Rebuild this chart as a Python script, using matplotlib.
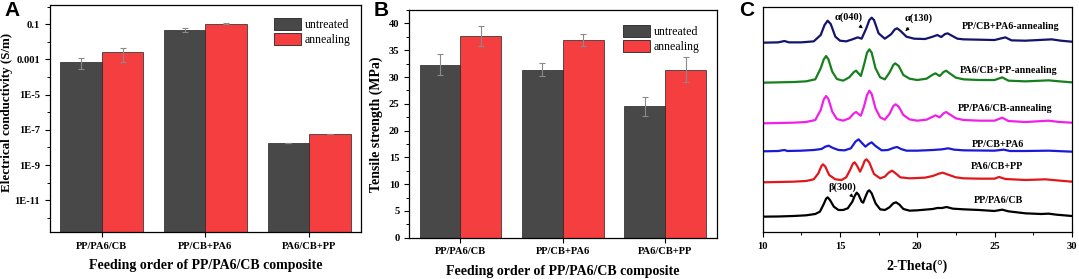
import matplotlib
matplotlib.use("Agg")
import matplotlib.pyplot as plt
import numpy as np
from matplotlib.patches import Patch
from matplotlib.ticker import FixedLocator, NullLocator, MultipleLocator, NullFormatter

# ---------------- data ----------------
groups = ["PP/PA6/CB", "PP/CB+PA6", "PA6/CB+PP"]
series = ["untreated", "annealing"]

cond_untreated = [7.4e-4, 5.0e-2, 1.8e-8]
cond_annealing = [2.7e-3, 1.08e-1, 5.9e-8]
cond_err_untreated = [4.5e-4, 1.5e-2, 1.0e-9]
cond_err_annealing = [2.0e-3, 8.0e-3, 2.0e-9]

ts_untreated = [32.3, 31.4, 24.5]
ts_annealing = [37.6, 36.9, 31.4]
ts_err_untreated = [2.0, 1.3, 1.7]
ts_err_annealing = [1.9, 1.2, 2.3]

# XRD patterns (2-Theta in degrees, intensity in a.u.)
xrd_labels = ["PP/PA6/CB", "PA6/CB+PP", "PP/CB+PA6",
              "PP/PA6/CB-annealing", "PA6/CB+PP-annealing", "PP/CB+PA6-annealing"]
xrd_colors = ["#000000", "#e0181c", "#1a1ad6", "#f020e8", "#17801e", "#14146e"]

tt_1 = [10, 11, 12, 12.8, 13.4, 13.7, 13.95, 14.1, 14.2, 14.35, 14.6, 14.9, 15.2, 15.5, 15.8, 15.95,
        16.08, 16.2, 16.4, 16.5, 16.65, 16.8, 16.9, 17.05, 17.3, 17.6, 17.9, 18.2, 18.45, 18.63, 18.85,
        19.1, 19.5, 20.0, 20.5, 21.0, 21.3, 21.6, 21.9, 22.3, 23, 24, 25, 25.5, 25.9, 27, 28, 28.5, 29, 30]
zy_1 = [650, 649.5, 648, 646, 642, 635, 612, 596, 592, 600, 620, 630, 630, 625, 605, 588,
        578, 584, 605, 608, 590, 574, 571, 580, 610, 628, 630, 622, 610, 607, 614,
        627, 632, 631, 629, 627, 624, 624, 621, 626, 628, 630, 633, 629, 634, 640, 642, 641, 644, 648]

tt_2 = [10, 11, 12, 12.8, 13.3, 13.6, 13.8, 13.9, 14.05, 14.3, 14.7, 15.1, 15.4, 15.65, 15.85, 15.95,
        16.1, 16.3, 16.45, 16.6, 16.72, 16.9, 17.2, 17.6, 17.9, 18.15, 18.37, 18.6, 18.9, 19.5, 20.5,
        21.0, 21.4, 21.65, 22.0, 22.5, 23, 24, 25, 25.3, 25.7, 27, 28.3, 29, 30]
zy_2 = [547, 546, 545, 543, 538, 520, 498, 493, 500, 525, 538, 540, 532, 510, 490, 487,
        497, 515, 500, 482, 478, 488, 522, 535, 530, 518, 512, 520, 532, 535, 533,
        528, 521, 518, 524, 532, 535, 536, 536, 531, 537, 540, 538, 541, 545]

tt_3 = [10, 11, 11.4, 11.6, 12.5, 13.3, 13.8, 14.05, 14.27, 14.5, 14.9, 15.3, 15.7, 16.0, 16.2, 16.4,
        16.65, 16.85, 17.05, 17.3, 17.7, 18.1, 18.5, 18.7, 18.95, 19.3, 20, 21, 21.6, 22.0, 22.4, 23,
        25, 25.6, 26, 27, 28.5, 30]
zy_3 = [454, 453, 450, 453, 452, 450, 447, 440, 437, 443, 450, 451, 445, 425, 418, 428,
        440, 432, 427, 438, 451, 450, 443, 441, 447, 452, 452, 450, 448, 445, 449, 451,
        452, 449, 453, 453, 452, 455]

tt_4 = [10, 11, 12, 12.8, 13.4, 13.75, 13.95, 14.1, 14.25, 14.5, 14.8, 15.2, 15.6, 15.9, 16.04, 16.2,
        16.35, 16.55, 16.75, 16.9, 17.05, 17.3, 17.6, 17.9, 18.2, 18.45, 18.6, 18.8, 19.1, 19.5, 20,
        20.6, 21.0, 21.18, 21.45, 21.7, 21.87, 22.1, 22.5, 23, 24, 25, 25.5, 25.9, 27, 28.5, 29.2, 30]
zy_4 = [370, 369, 368, 366, 360, 330, 298, 288, 297, 335, 357, 362, 355, 340, 336, 342,
        347, 320, 285, 272, 282, 325, 352, 359, 342, 318, 313, 320, 345, 358, 362,
        359, 350, 346, 352, 340, 336, 343, 355, 360, 362, 362, 353, 363, 366, 362, 366, 368]

tt_5 = [10, 11, 12, 12.8, 13.4, 13.75, 13.95, 14.1, 14.25, 14.5, 14.8, 15.2, 15.6, 15.9, 16.04, 16.2,
        16.35, 16.55, 16.75, 16.9, 17.05, 17.3, 17.6, 17.9, 18.2, 18.45, 18.57, 18.8, 19.1, 19.5, 20,
        20.6, 21.0, 21.18, 21.45, 21.7, 21.87, 22.1, 22.5, 23, 24, 25, 25.5, 25.9, 27, 28.5, 29.2, 30]
zy_5 = [248, 247, 246, 244, 238, 205, 178, 168, 178, 215, 237, 242, 232, 216, 212, 220,
        228, 195, 158, 148, 158, 205, 232, 238, 218, 195, 190, 198, 225, 236, 240,
        236, 224, 220, 228, 216, 212, 220, 233, 238, 240, 240, 232, 242, 244, 241, 244, 247]

tt_6 = [10, 11, 11.4, 11.7, 12.5, 13.3, 13.75, 14.0, 14.2, 14.4, 14.7, 15.0, 15.4, 15.8, 16.15, 16.4,
        16.7, 16.9, 17.05, 17.2, 17.5, 17.9, 18.3, 18.55, 18.7, 18.9, 19.3, 19.8, 20.5, 21.0, 21.3,
        21.55, 21.8, 21.97, 22.2, 22.6, 23, 24, 25, 25.7, 26.1, 27, 28.7, 29.3, 30]
zy_6 = [128, 127, 123, 127, 127, 124, 105, 75, 62, 72, 110, 122, 124, 118, 112, 116,
        85, 60, 53, 60, 100, 116, 103, 88, 85, 92, 110, 116, 117, 110, 105,
        111, 102, 100, 106, 116, 118, 119, 120, 112, 121, 122, 118, 122, 125]

PIX0 = 696  # baseline reference for intensity (a.u.)
xrd_x = [tt_1, tt_2, tt_3, tt_4, tt_5, tt_6]
xrd_y = [[PIX0 - v for v in z] for z in (zy_1, zy_2, zy_3, zy_4, zy_5, zy_6)]
xrd_label_pos = [(25.27, 93), (25.17, 198), (25.2, 263), (25.7, 371), (25.92, 486), (26.05, 616)]

# ---------------- style ----------------
C_UNT = "#484848"
C_ANN = "#f43e40"
SERIF = ["Liberation Serif", "DejaVu Serif"]
plt.rcParams["font.family"] = SERIF
plt.rcParams["font.weight"] = "bold"
plt.rcParams["axes.linewidth"] = 0.9

fig = plt.figure(figsize=(10.79, 2.79), dpi=100)
axA = fig.add_axes([0.0463, 0.1674, 0.2882, 0.8136])
axB = fig.add_axes([0.3793, 0.1480, 0.2849, 0.8160])
axC = fig.add_axes([0.7069, 0.1685, 0.2864, 0.8075])

x = np.arange(len(groups))
w = 0.4
TICK_FS = 7.6
LABEL_FS = 10


def style_bar_axes(ax):
    ax.tick_params(axis="both", which="both", direction="out", labelsize=TICK_FS,
                   right=False, top=False)
    ax.tick_params(which="major", length=3.5, width=0.8)
    ax.tick_params(which="minor", length=2, width=0.7)
    ax.set_xticks(x)
    ax.set_xticklabels(groups, fontsize=TICK_FS, fontweight="bold")
    ax.set_xlim(-0.5, 2.5)
    ax.set_xlabel("Feeding order of PP/PA6/CB composite", fontsize=LABEL_FS,
                  fontweight="bold", labelpad=6)
    for t in ax.get_yticklabels():
        t.set_fontweight("bold")


def add_legend(ax, anchor):
    handles = [Patch(facecolor=C_UNT, edgecolor="#222222", linewidth=0.6),
               Patch(facecolor=C_ANN, edgecolor="#222222", linewidth=0.6)]
    leg = ax.legend(handles, series, loc="upper left", bbox_to_anchor=anchor,
                    frameon=False, handlelength=2.3, handleheight=1.15,
                    handletextpad=0.3, labelspacing=0.15, borderpad=0.0,
                    prop={"family": SERIF, "weight": "normal", "size": 8.6})
    return leg


err_kw = dict(ecolor="#8a8a8a", elinewidth=0.8, capsize=2, capthick=0.8)

# ---------------- Panel A ----------------
axA.bar(x - w / 2, cond_untreated, w, color=C_UNT, edgecolor="#222222", linewidth=0.5,
        yerr=cond_err_untreated, error_kw=err_kw, zorder=2)
axA.bar(x + w / 2, cond_annealing, w, color=C_ANN, edgecolor="#222222", linewidth=0.5,
        yerr=cond_err_annealing, error_kw=err_kw, zorder=2)
axA.set_yscale("log")
axA.set_ylim(1.5e-13, 1.2)
major = [1e-1, 1e-3, 1e-5, 1e-7, 1e-9, 1e-11]
axA.yaxis.set_major_locator(FixedLocator(major))
axA.yaxis.set_minor_locator(FixedLocator([1e0, 1e-2, 1e-4, 1e-6, 1e-8, 1e-10, 1e-12]))
axA.yaxis.set_minor_formatter(NullFormatter())
axA.set_yticklabels(["0.1", "0.001", "1E-5", "1E-7", "1E-9", "1E-11"])
axA.set_ylabel("Electrical conductivity (S/m)", fontsize=9.4, fontweight="bold")
axA.yaxis.set_label_coords(-0.12, 0.53)
style_bar_axes(axA)
add_legend(axA, (0.70, 0.97))

# ---------------- Panel B ----------------
axB.bar(x - w / 2, ts_untreated, w, color=C_UNT, edgecolor="#222222", linewidth=0.5,
        yerr=ts_err_untreated, error_kw=err_kw, zorder=2)
axB.bar(x + w / 2, ts_annealing, w, color=C_ANN, edgecolor="#222222", linewidth=0.5,
        yerr=ts_err_annealing, error_kw=err_kw, zorder=2)
axB.set_ylim(0, 42.5)
axB.yaxis.set_major_locator(MultipleLocator(5))
axB.yaxis.set_minor_locator(MultipleLocator(2.5))
axB.set_ylabel("Tensile strength (MPa)", fontsize=LABEL_FS, fontweight="bold")
axB.yaxis.set_label_coords(-0.085, 0.5)
style_bar_axes(axB)
add_legend(axB, (0.675, 0.96))

# ---------------- Panel C ----------------
for xs, ys, col in zip(xrd_x, xrd_y, xrd_colors):
    axC.plot(xs, ys, color=col, linewidth=1.6, solid_joinstyle="round")
for (lx, ly), lab in zip(xrd_label_pos, xrd_labels):
    axC.text(lx, ly, lab, ha="center", va="center", fontsize=7.2, fontweight="bold")
axC.set_xlim(10, 30)
axC.set_ylim(0, 676)
axC.xaxis.set_major_locator(MultipleLocator(5))
axC.xaxis.set_minor_locator(MultipleLocator(2.5))
axC.yaxis.set_major_locator(NullLocator())
axC.tick_params(axis="x", which="both", direction="out", labelsize=TICK_FS, top=False)
axC.tick_params(which="major", length=3.5, width=0.8)
axC.tick_params(which="minor", length=2, width=0.7)
for t in axC.get_xticklabels():
    t.set_fontweight("bold")
axC.set_xlabel("2-Theta(°)", fontsize=LABEL_FS, fontweight="bold", labelpad=6)

arrow_kw = dict(arrowstyle="-|>", color="black", lw=0.6, mutation_scale=5)
axC.annotate("α(040)", xy=(16.62, 606), xytext=(15.55, 644), fontsize=7.4, fontweight="bold",
             ha="center", va="center", arrowprops=arrow_kw)
axC.annotate("α(130)", xy=(19.1, 597), xytext=(20.1, 641), fontsize=7.4, fontweight="bold",
             ha="center", va="center", arrowprops=arrow_kw)
axC.annotate("β(300)", xy=(16.0, 98), xytext=(15.18, 133), fontsize=7.4, fontweight="bold",
             ha="center", va="center", arrowprops=arrow_kw)

# ---------------- panel letters ----------------
for lx, lab in [(0.004, "A"), (0.346, "B"), (0.685, "C")]:
    fig.text(lx, 0.995, lab, fontsize=15, fontweight="bold", va="top", ha="left",
             family=["Liberation Sans", "DejaVu Sans"])

fig.savefig("out.png", dpi=100)
